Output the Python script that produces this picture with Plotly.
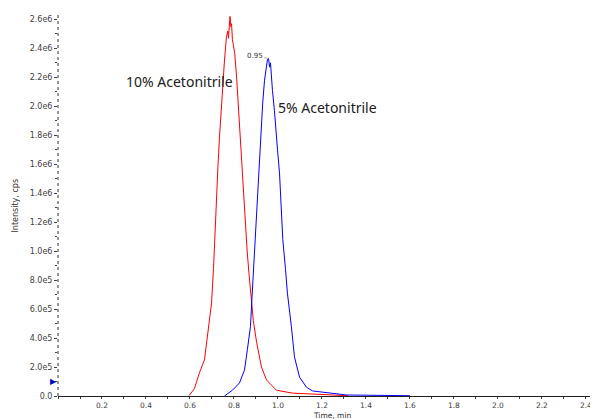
import plotly.graph_objects as go

# Red trace: 10% Acetonitrile (time in min, intensity in millions of cps)
t_red = [0.593, 0.598, 0.62, 0.643, 0.666, 0.680, 0.698, 0.707, 0.712, 0.721, 0.727, 0.734,
         0.741, 0.748, 0.757, 0.766, 0.772, 0.775, 0.779, 0.782, 0.786, 0.789, 0.793, 0.803,
         0.812, 0.820, 0.828, 0.836, 0.844, 0.852, 0.860, 0.868, 0.878, 0.888, 0.903, 0.925,
         0.948, 0.993, 1.066, 1.2, 1.32]
i_red_m = [0.0, 0.007, 0.05, 0.16, 0.25, 0.43, 0.64, 0.88, 1.08, 1.37, 1.58, 1.78,
           1.97, 2.14, 2.32, 2.48, 2.52, 2.47, 2.58, 2.62, 2.55, 2.57, 2.46, 2.37,
           2.20, 2.00, 1.80, 1.58, 1.36, 1.17, 1.00, 0.85, 0.68, 0.52, 0.37, 0.20,
           0.11, 0.04, 0.02, 0.008, 0.002]

# Blue trace: 5% Acetonitrile
t_blue = [0.757, 0.793, 0.825, 0.848, 0.861, 0.875, 0.882, 0.889, 0.896, 0.903, 0.910, 0.917,
          0.924, 0.931, 0.939, 0.948, 0.952, 0.957, 0.962, 0.966, 0.970, 0.975, 0.984, 0.993,
          0.998, 1.007, 1.016, 1.022, 1.034, 1.043, 1.061, 1.075, 1.098, 1.13, 1.157, 1.234,
          1.311, 1.6]
i_blue_m = [0.0, 0.04, 0.09, 0.18, 0.32, 0.48, 0.68, 0.88, 1.08, 1.28, 1.47, 1.65,
            1.85, 2.03, 2.18, 2.27, 2.32, 2.33, 2.27, 2.30, 2.20, 2.11, 1.97, 1.83,
            1.70, 1.54, 1.30, 1.08, 0.88, 0.71, 0.48, 0.27, 0.13, 0.06, 0.035, 0.02,
            0.007, 0.002]

i_red = [v * 1e6 for v in i_red_m]
i_blue = [v * 1e6 for v in i_blue_m]

label_red = "10% Acetonitrile"
label_blue = "5% Acetonitrile"
peak_label = "0.95"

x_tickvals = [0.2, 0.4, 0.6, 0.8, 1.0, 1.2, 1.4, 1.6, 1.8, 2.0, 2.2, 2.4]
x_ticktext = ["0.2", "0.4", "0.6", "0.8", "1.0", "1.2", "1.4", "1.6", "1.8", "2.0", "2.2", "2.4"]
y_tickvals_m = [0.0, 0.2, 0.4, 0.6, 0.8, 1.0, 1.2, 1.4, 1.6, 1.8, 2.0, 2.2, 2.4, 2.6]
y_ticktext = ["0.0", "2.0e5", "4.0e5", "6.0e5", "8.0e5", "1.0e6", "1.2e6", "1.4e6",
              "1.6e6", "1.8e6", "2.0e6", "2.2e6", "2.4e6", "2.6e6"]
y_tickvals = [v * 1e6 for v in y_tickvals_m]

marker_level = 0.103e6

fig = go.Figure()
fig.add_trace(go.Scatter(x=t_red, y=i_red, mode="lines",
                         line=dict(color="#ff0000", width=1), showlegend=False))
fig.add_trace(go.Scatter(x=t_blue, y=i_blue, mode="lines",
                         line=dict(color="#0000ff", width=1), showlegend=False))

tickfont = dict(family="DejaVu Sans", size=8, color="#404040")
xtickfont = dict(family="DejaVu Sans", size=7.5, color="#404040")

# page body has an 8px default margin, so the figure is sized to fit the window
fig.update_layout(
    width=590, height=411,
    margin=dict(l=50, r=0, t=7, b=23),
    paper_bgcolor="white", plot_bgcolor="white",
    xaxis=dict(range=[0, 2.455], tickmode="array", tickvals=x_tickvals, ticktext=x_ticktext,
               ticks="outside", ticklen=2, tickcolor="#404040", tickfont=xtickfont,
               showgrid=False, zeroline=False, showline=True, linecolor="#202020", linewidth=1,
               minor=dict(tickmode="linear", tick0=0, dtick=0.1, ticks="outside", ticklen=2,
                          tickcolor="#404040", showgrid=False)),
    yaxis=dict(range=[0, 2.63e6], tickmode="array", tickvals=y_tickvals, ticktext=y_ticktext,
               ticks="outside", ticklen=3, tickcolor="#404040", tickfont=tickfont,
               showgrid=False, zeroline=False, showline=False,
               minor=dict(tickmode="linear", tick0=0, dtick=1e5, ticks="outside", ticklen=2,
                          tickcolor="#404040", showgrid=False)),
    shapes=[dict(type="line", xref="paper", yref="paper", x0=0, x1=0, y0=0, y1=1,
                 line=dict(color="#303030", width=1, dash="dot"))],
)

# baseline marker on the intensity axis
fig.add_annotation(xref="paper", x=0, y=marker_level, text="▶", showarrow=False,
                   xanchor="right", yanchor="middle", xshift=1,
                   font=dict(family="DejaVu Sans", size=8, color="#0000cc"))

# peak annotation for blue trace
bi = i_blue.index(max(i_blue))
fig.add_annotation(x=t_blue[bi], y=i_blue[bi], text=peak_label, showarrow=True,
                   arrowhead=0, arrowwidth=0.6, arrowcolor="#808080", ax=-14, ay=-2,
                   font=dict(family="DejaVu Sans", size=7, color="#303030"))

fig.add_annotation(x=0.298, y=2.17e6, text=label_red, showarrow=False, xanchor="left",
                   yanchor="middle", font=dict(family="Noto Sans", size=14, color="#202020"))
fig.add_annotation(x=0.989, y=1.99e6, text=label_blue, showarrow=False, xanchor="left",
                   yanchor="middle", font=dict(family="Noto Sans", size=14, color="#202020"))

fig.add_annotation(xref="paper", yref="paper", x=0, y=0.5, xshift=-43, text="Intensity, cps",
                   textangle=-90, showarrow=False, xanchor="center", yanchor="middle",
                   font=dict(family="DejaVu Sans", size=8, color="#303030"))
fig.add_annotation(xref="paper", yref="paper", x=0.509, y=0, yshift=-13.5, text="Time, min",
                   showarrow=False, xanchor="center", yanchor="top", borderpad=0,
                   font=dict(family="DejaVu Sans", size=7.5, color="#303030"))

fig.write_html("out.html")
